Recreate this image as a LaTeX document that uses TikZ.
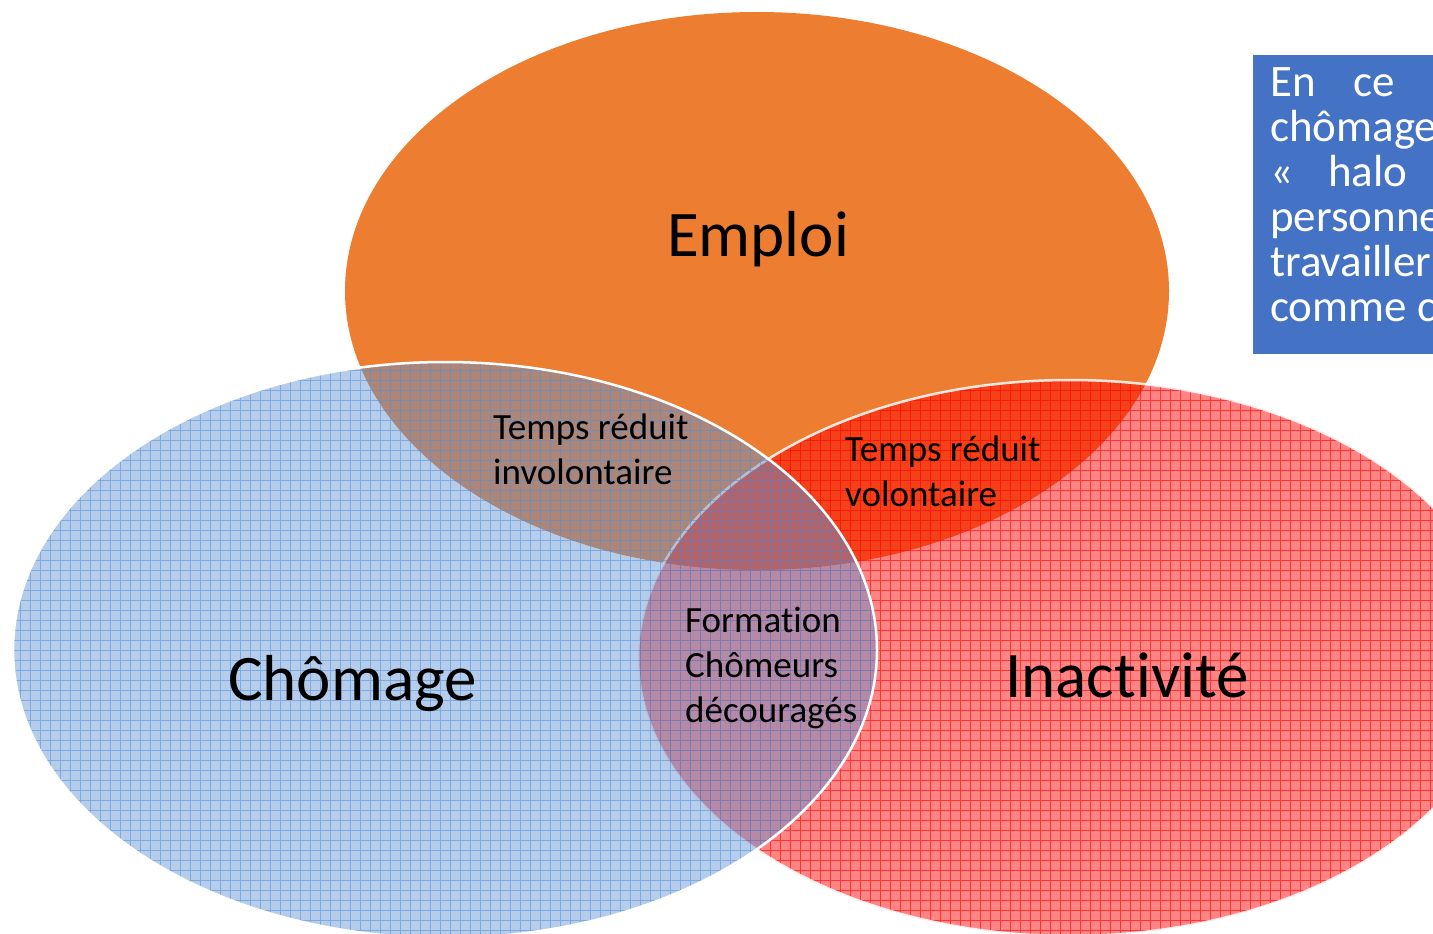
\documentclass[tikz,border=0pt]{standalone}
\usepackage{fontspec}
\setmainfont{Carlito}[Ligatures=NoCommon]
\definecolor{emploi}{HTML}{ED7D31}
\definecolor{chom}{HTML}{5B91D1}
\definecolor{chomline}{HTML}{5090DA}
\definecolor{inact}{HTML}{FF0000}
\definecolor{halo}{HTML}{4472C4}
\tikzset{
  big/.style={font=\fontsize{65}{78}\selectfont, inner sep=0pt, anchor=base west},
  small/.style={font=\fontsize{37}{45}\selectfont, inner sep=0pt, anchor=base west},
  boxtxt/.style={font=\fontsize{45}{45}\selectfont, text=white, inner sep=0pt, anchor=base west},
  rim/.style={draw=white, line width=2.5pt}
}
\begin{document}
\begin{tikzpicture}[x=1pt,y=-1pt]
\useasboundingbox (0,0) rectangle (1433,934);
\clip (0,0) rectangle (1433,934);
% Emploi
\fill[emploi] (757,291) ellipse [x radius=412, y radius=279];
% Inactivite
\begin{scope}
  \clip (1070,658) ellipse [x radius=432, y radius=278];
  \fill[inact, opacity=0.48] (600,370) rectangle (1520,940);
  \draw[inact, opacity=0.6, line width=0.8pt, step=10pt] (600,370) grid (1520,940);
\end{scope}
\draw[rim, draw opacity=0.85] (1070,658) ellipse [x radius=432, y radius=278];
% Chomage
\begin{scope}
  \clip (445,650) ellipse [x radius=432, y radius=288];
  \fill[chom, opacity=0.45] (0,350) rectangle (890,940);
  \draw[chomline, opacity=0.55, line width=0.9pt, step=10pt] (0,350) grid (890,940);
\end{scope}
\draw[rim] (445,650) ellipse [x radius=432, y radius=288];
% labels
\node[big] (emploi) at (667,256) {Emploi};
\node[big] (chomage) at (228,700) {Chômage};
\node[big] (inactivite) at (1005,697) {Inactivité};
\node[small] (tri1) at (493,439) {Temps réduit};
\node[small] (tri2) at (493,484) {involontaire};
\node[small] (trv1) at (845,461) {Temps réduit};
\node[small] (trv2) at (845,506) {volontaire};
\node[small] (f1) at (685,632) {Formation};
\node[small] (f2) at (685,677) {Chômeurs};
\node[small] (f3) at (685,722) {découragés};
% halo box
\fill[halo] (1253,55) rectangle (1440,354);
\node[boxtxt] (b1) at (1270,96) {En};
\node[boxtxt] (b1b) at (1353,96) {ce};
\node[boxtxt] (b2) at (1270,141) {chômage};
\node[boxtxt] (b3) at (1270,186) {«};
\node[boxtxt] (b3b) at (1328,186) {halo};
\node[boxtxt] (b4) at (1270,231) {personne};
\node[boxtxt] (b5) at (1270,276) {travailler};
\node[boxtxt] (b6) at (1270,321) {comme c};
\end{tikzpicture}
\end{document}
